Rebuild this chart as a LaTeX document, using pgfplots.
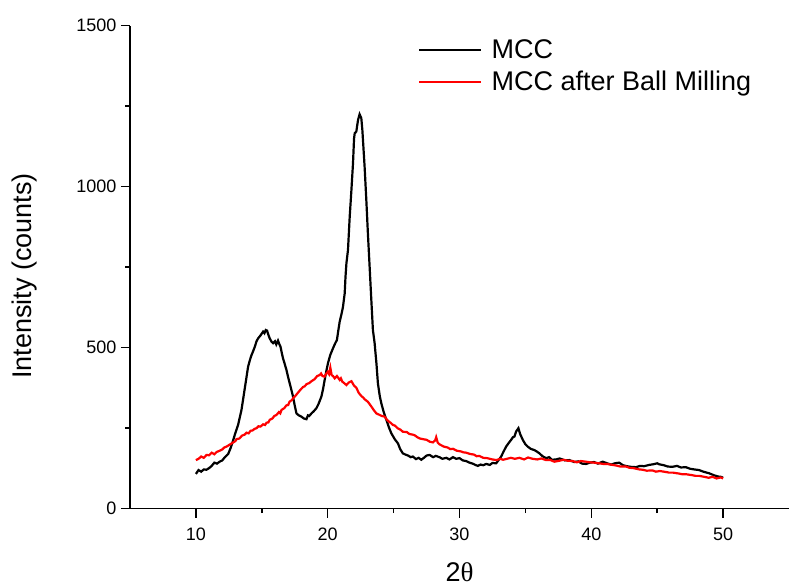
\documentclass[border=0pt]{standalone}
\usepackage{pgfplots}
\pgfplotsset{compat=1.18}
\usepackage{fontspec}
\setmainfont{Liberation Sans}
\newfontfamily\thetafont{Liberation Serif}

\pgfplotstableread{
x y
10.0 108
10.2 120
10.4 115
10.6 122
10.8 121
11.0 126
11.2 133
11.4 143
11.6 140
11.8 146
12.0 150
12.2 160
12.45 170
12.65 190
12.83 213
13.0 236
13.2 260
13.46 307
13.71 374
13.96 441
14.1 462
14.22 477
14.35 490
14.47 503
14.6 520
14.72 529
14.9 538
15.1 550
15.2 545
15.3 555
15.4 553
15.5 540
15.6 529
15.75 518
15.86 514
16.0 520
16.1 510
16.23 522
16.32 512
16.42 503
16.51 485
16.61 467
16.75 448
16.87 431
17.0 408
17.12 389
17.25 368
17.37 348
17.5 320
17.63 296
17.8 290
18.0 286
18.2 280
18.39 278
18.5 290
18.6 288
18.77 296
18.95 303
19.14 312
19.3 325
19.52 348
19.65 372
19.77 400
19.9 428
20.02 452
20.2 478
20.4 498
20.55 512
20.7 524
20.8 552
20.91 581
21.05 605
21.16 627
21.29 669
21.35 720
21.42 762
21.54 804
21.67 907
21.8 990
21.92 1073
22.0 1150
22.05 1166
22.17 1171
22.3 1207
22.42 1225
22.55 1213
22.63 1176
22.8 1062
22.93 959
23.05 855
23.18 752
23.31 648
23.43 555
23.56 514
23.7 450
23.81 389
23.95 350
24.07 327
24.25 300
24.45 276
24.65 252
24.83 234
25.1 215
25.33 203
25.5 185
25.7 172
25.9 168
26.1 165
26.3 160
26.46 162
26.7 154
26.9 158
27.1 152
27.3 158
27.5 165
27.73 167
28.0 160
28.2 164
28.48 160
28.7 155
29.0 158
29.24 153
29.5 160
29.75 155
30.0 157
30.25 150
30.5 148
30.76 143
31.0 140
31.2 136
31.39 133
31.6 137
31.8 135
32.02 139
32.3 136
32.5 142
32.78 141
32.95 150
33.16 162
33.35 178
33.54 193
33.75 205
33.92 214
34.05 222
34.17 224
34.3 240
34.47 250
34.6 232
34.8 214
35.0 200
35.17 193
35.4 186
35.68 182
35.85 178
36.06 172
36.3 163
36.57 157
36.8 160
37.0 152
37.33 153
37.6 156
38.0 150
38.33 151
38.7 145
39.0 147
39.3 140
39.6 139
39.9 143
40.2 145
40.5 140
40.86 146
41.2 141
41.5 137
41.8 141
42.12 143
42.4 135
42.7 132
43.0 130
43.39 129
43.7 133
44.0 132
44.39 136
44.7 138
45.0 141
45.15 138
45.5 135
45.8 131
46.16 130
46.5 133
46.8 128
47.17 129
47.5 124
47.8 122
48.18 120
48.5 115
48.94 110
49.3 104
49.6 100
49.83 99
50.0 96
}\mcc

\pgfplotstableread{
x y
10.0 151
10.2 155
10.4 162
10.6 158
10.81 167
11.0 166
11.2 174
11.4 169
11.57 176
11.8 180
12.0 184
12.15 190
12.33 193
12.6 200
12.8 205
13.0 210
13.08 216
13.3 218
13.5 227
13.7 230
13.84 236
14.0 234
14.15 242
14.3 243
14.45 248
14.6 250
14.75 256
14.9 255
15.1 262
15.25 260
15.36 267
15.5 268
15.6 276
15.8 280
15.95 288
16.11 291
16.3 300
16.4 296
16.5 307
16.7 312
16.87 321
17.0 322
17.1 332
17.3 338
17.4 345
17.5 348
17.7 358
17.9 368
18.13 378
18.25 380
18.4 387
18.6 390
18.77 396
19.0 402
19.2 412
19.39 415
19.5 420
19.6 412
19.75 410
19.9 420
20.0 425
20.1 418
20.2 438
20.3 415
20.4 412
20.53 405
20.7 412
20.91 400
21.0 405
21.1 395
21.25 390
21.42 384
21.6 392
21.8 396
22.0 382
22.17 376
22.35 360
22.55 350
22.7 345
22.8 340
23.05 332
23.3 318
23.5 306
23.69 296
23.9 292
24.1 288
24.32 286
24.5 276
24.6 272
24.8 266
24.95 260
25.1 258
25.3 250
25.5 246
25.7 239
26.0 238
26.2 232
26.46 230
26.6 228
26.8 222
27.0 218
27.22 216
27.5 214
27.75 208
27.98 206
28.15 212
28.23 222
28.35 205
28.48 200
28.8 193
29.1 190
29.3 185
29.5 186
29.8 180
30.1 178
30.3 175
30.5 174
30.8 170
31.1 168
31.3 163
31.5 164
31.8 158
32.1 157
32.5 153
32.8 151
33.1 155
33.3 152
33.5 154
33.9 158
34.2 155
34.55 158
34.9 153
35.2 159
35.55 155
35.9 153
36.2 156
36.57 151
36.9 151
37.2 146
37.58 149
37.9 152
38.2 149
38.58 148
38.9 144
39.2 148
39.6 146
39.9 144
40.2 143
40.6 141
40.9 139
41.2 139
41.6 136
41.9 134
42.2 131
42.63 131
42.9 127
43.2 126
43.64 122
43.9 121
44.2 118
44.64 119
44.9 115
45.2 117
45.66 114
45.9 112
46.2 112
46.67 109
46.9 107
47.2 107
47.67 104
47.9 102
48.2 102
48.69 98
48.9 96
49.2 99
49.5 94
49.83 97
50.0 94
}\milled

\begin{document}
\begin{tikzpicture}
\path[use as bounding box] (-130pt,-77.3pt) rectangle (659pt,508.7pt);
\begin{axis}[
    at={(0pt,0pt)}, anchor=south west,
    scale only axis,
    width=659pt, height=483pt,
    xmin=5, xmax=55, ymin=0, ymax=1500,
    axis x line*=bottom, axis y line*=left,
    axis line style={line width=1.5pt},
    xtick={10,20,30,40,50},
    ytick={0,500,1000,1500},
    minor tick num=1,
    tick align=outside,
    major tick length=9pt, minor tick length=4.5pt,
    every tick/.style={black, line width=1.5pt},
    tick label style={font=\fontsize{18}{20}\selectfont},
    /pgf/number format/assume math mode=true,
    /pgf/number format/1000 sep={},
    xticklabel style={yshift=-7pt},
    yticklabel style={xshift=-1pt},
    xlabel={2{\thetafont θ}},
    ylabel={Intensity (counts)},
    label style={font=\fontsize{27}{30}\selectfont},
    xlabel style={at={(axis description cs:0.5,0)}, anchor=base, yshift=-73pt},
    ylabel style={at={(axis description cs:0,0.5)}, anchor=center, yshift=105pt, xshift=-9pt},
    legend style={at={(axis description cs:0.437,0.916)}, anchor=west,
        draw=none, fill=none, inner sep=0pt, row sep=9pt, column sep=8pt,
        font=\fontsize{27}{30}\selectfont,
        nodes={inner sep=1pt}},
    legend cell align=left,
    legend image code/.code={\draw[#1, line width=2.4pt] (0pt,0pt) -- (62pt,0pt);},
]
\addplot[black, line width=2.2pt] table {\mcc};
\addplot[red, line width=2.2pt] table {\milled};
\legend{MCC, MCC after Ball Milling}
\end{axis}
\end{tikzpicture}
\end{document}
